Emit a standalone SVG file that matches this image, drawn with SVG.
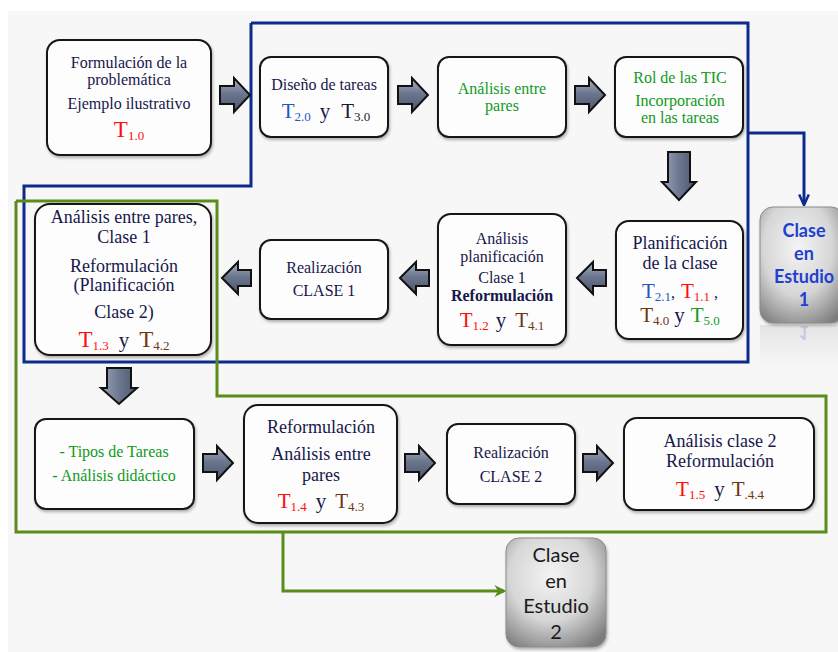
<svg xmlns="http://www.w3.org/2000/svg" width="838" height="652" viewBox="0 0 838 652">
<defs>
<style>
.box{fill:#fdfdfd;stroke:#151515;stroke-width:2;filter:url(#sh)}
.t{font-family:"Liberation Serif","DejaVu Serif",serif;font-size:16px;fill:#16174a;text-anchor:middle}
.g{fill:#0f9a1c}
.big{font-size:18px}
.tt{font-size:21px}
.sub{font-size:13px}
.red{fill:#ff0d0d}
.brn{fill:#6e3512}
.blu{fill:#2456c0}
.grn{fill:#139b25}
.blk{fill:#1a1a30}
.bl{fill:none;stroke:#0c2b8c;stroke-width:3}
.gl{fill:none;stroke:#5a8c1c;stroke-width:3}
.ar{stroke:#111;stroke-width:2;stroke-linejoin:miter}
.cs{font-family:Lato,"Open Sans","Liberation Sans",sans-serif;text-anchor:middle}
</style>
<filter id="sh" x="-10%" y="-10%" width="125%" height="125%"><feDropShadow dx="1" dy="2" stdDeviation="1.5" flood-color="#000" flood-opacity="0.3"/></filter>
<linearGradient id="ah" x1="0" y1="0" x2="0" y2="1"><stop offset="0" stop-color="#a9b1c4"/><stop offset="0.45" stop-color="#6c778f"/><stop offset="1" stop-color="#4b556c"/></linearGradient>
<linearGradient id="av" x1="0" y1="0" x2="1" y2="0"><stop offset="0" stop-color="#9aa3b8"/><stop offset="0.5" stop-color="#6d7890"/><stop offset="1" stop-color="#4b556c"/></linearGradient>
<radialGradient id="gb" cx="0.45" cy="0.35" r="0.75"><stop offset="0" stop-color="#f4f4f4"/><stop offset="0.55" stop-color="#d6d6d6"/><stop offset="1" stop-color="#7d7d7d"/></radialGradient>
<linearGradient id="rf" x1="0" y1="0" x2="0" y2="1"><stop offset="0" stop-color="#dcdcdc"/><stop offset="1" stop-color="#f7f7f7"/></linearGradient>
<path id="ra" class="ar" fill="url(#ah)" d="M0,-9 H14 V-17 L30,0 L14,17 V9 H0 Z"/>
<path id="la" class="ar" fill="url(#ah)" d="M0,0 L16,-16 V-8 H29 V8 H16 V16 Z"/>
<path id="da1" class="ar" fill="url(#av)" d="M-11,0 H11 V30 H17 L0,48 L-17,30 H-11 Z"/>
<path id="da2" class="ar" fill="url(#av)" d="M-12,0 H12 V20 H18 L0,36 L-18,20 H-12 Z"/>
<marker id="mb" viewBox="0 0 10 10" refX="8" refY="5" markerWidth="4" markerHeight="4" orient="auto"><path d="M0,1 L9,5 L0,9" fill="none" stroke="#0c2b8c" stroke-width="2"/></marker>
<marker id="mg" viewBox="0 0 10 10" refX="8" refY="5" markerWidth="4" markerHeight="4" orient="auto"><path d="M0,0 L10,5 L0,10 L3,5 Z" fill="#5a8c1c"/></marker>
</defs>
<rect x="8" y="11" width="830" height="641" fill="#f7f7f7"/>

<g id="connectors">
<polyline class="bl" points="251,23 748,23 748,362 24,362 24,186 251,186 251,23"/>
<polyline class="bl" points="748,133 804,133 804,204" marker-end="url(#mb)"/>
<polyline class="gl" points="16,201 217,201 217,396 826,396 826,532 16,532 16,201"/>
<polyline class="gl" points="283,532 283,591 504,591" marker-end="url(#mg)"/>
<use href="#ra" x="220" y="95"/>
<use href="#ra" x="398" y="95"/>
<use href="#ra" x="575" y="95"/>
<use href="#ra" x="203" y="463"/>
<use href="#ra" x="405" y="463"/>
<use href="#ra" x="583" y="463"/>
<use href="#la" x="577" y="278"/>
<use href="#la" x="400" y="278"/>
<use href="#la" x="222" y="278"/>
<use href="#da1" x="679" y="152"/>
<use href="#da2" x="119" y="368"/>
</g>

<g id="n1">
<rect class="box" x="47" y="40" width="164" height="115" rx="13"/>
<text class="t" x="129" y="68">Formulación de la</text>
<text class="t" x="129" y="85">problemática</text>
<text class="t" x="129" y="109">Ejemplo ilustrativo</text>
<text class="t red" x="129" y="137"><tspan font-size="23px">T</tspan><tspan class="sub" dy="3">1.0</tspan></text>
</g>

<g id="n2">
<rect class="box" x="260" y="57" width="128" height="80" rx="11"/>
<text class="t" x="324" y="90">Diseño de tareas</text>
<text class="t" x="326" y="118"><tspan class="tt blu">T</tspan><tspan class="sub blu" dy="3">2.0</tspan><tspan class="tt" dy="-3" dx="9">y</tspan><tspan class="tt blk" dx="11">T</tspan><tspan class="sub blk" dy="3">3.0</tspan></text>
</g>

<g id="n3">
<rect class="box" x="438" y="57" width="128" height="80" rx="11"/>
<text class="t g" x="502" y="94">Análisis entre</text>
<text class="t g" x="502" y="111">pares</text>
</g>

<g id="n4">
<rect class="box" x="615" y="57" width="128" height="80" rx="11"/>
<text class="t g" x="680" y="83">Rol de las TIC</text>
<text class="t g" x="680" y="106">Incorporación</text>
<text class="t g" x="680" y="123">en las tareas</text>
</g>

<g id="n5">
<rect class="box" x="616" y="221" width="127" height="118" rx="13"/>
<text class="t big" x="680" y="249">Planificación</text>
<text class="t big" x="680" y="269">de la clase</text>
<text class="t" x="680" y="298"><tspan class="tt blu">T</tspan><tspan class="sub blu" dy="3">2.1</tspan><tspan dy="-3">,</tspan><tspan class="tt red" dx="6">T</tspan><tspan class="sub red" dy="3">1.1</tspan><tspan dy="-3" dx="4">,</tspan></text>
<text class="t" x="680" y="322"><tspan class="tt brn">T</tspan><tspan class="sub brn" dy="3">4.0</tspan><tspan class="tt" dy="-3" dx="5">y</tspan><tspan class="tt grn" dx="6">T</tspan><tspan class="sub grn" dy="3">5.0</tspan></text>
</g>

<g id="n6">
<rect class="box" x="438" y="214" width="128" height="131" rx="13"/>
<text class="t" x="502" y="244">Análisis</text>
<text class="t" x="502" y="262">planificación</text>
<text class="t" x="502" y="283">Clase 1</text>
<text class="t" x="502" y="301" font-size="12.5px" font-weight="bold">Reformulación</text>
<text class="t" x="502" y="327"><tspan class="tt red">T</tspan><tspan class="sub red" dy="3">1.2</tspan><tspan class="tt" dy="-3" dx="7">y</tspan><tspan class="tt brn" dx="9">T</tspan><tspan class="sub brn" dy="3">4.1</tspan></text>
</g>

<g id="n7">
<rect class="box" x="260" y="240" width="128" height="79" rx="11"/>
<text class="t" x="324" y="273">Realización</text>
<text class="t" x="324" y="296">CLASE 1</text>
</g>

<g id="n8">
<rect class="box" x="35" y="204" width="176" height="151" rx="15"/>
<text class="t big" x="124" y="223">Análisis entre pares,</text>
<text class="t big" x="124" y="243">Clase 1</text>
<text class="t big" x="124" y="272">Reformulación</text>
<text class="t big" x="124" y="291">(Planificación</text>
<text class="t big" x="124" y="318">Clase 2)</text>
<text class="t" x="124" y="347"><tspan font-size="23px" class="red">T</tspan><tspan class="sub red" dy="3">1.3</tspan><tspan font-size="21px" dy="-3" dx="10">y</tspan><tspan font-size="23px" class="brn" dx="10">T</tspan><tspan class="sub brn" dy="3">4.2</tspan></text>
</g>

<g id="n9">
<rect class="box" x="35" y="419" width="159" height="90" rx="11"/>
<text class="t g" x="114" y="457">- Tipos  de Tareas</text>
<text class="t g" x="114" y="481">- Análisis didáctico</text>
</g>

<g id="n10">
<rect class="box" x="244" y="405" width="153" height="118" rx="14"/>
<text class="t big" x="321" y="433">Reformulación</text>
<text class="t big" x="321" y="460">Análisis entre</text>
<text class="t big" x="321" y="481">pares</text>
<text class="t" x="321" y="508"><tspan class="tt red">T</tspan><tspan class="sub red" dy="3">1.4</tspan><tspan class="tt" dy="-3" dx="9">y</tspan><tspan class="tt brn" dx="9">T</tspan><tspan class="sub brn" dy="3">4.3</tspan></text>
</g>

<g id="n11">
<rect class="box" x="447" y="424" width="128" height="80" rx="11"/>
<text class="t" x="511" y="458">Realización</text>
<text class="t" x="511" y="482">CLASE 2</text>
</g>

<g id="n12">
<rect class="box" x="624" y="418" width="190" height="92" rx="13"/>
<text class="t big" x="720" y="447">Análisis clase 2</text>
<text class="t big" x="720" y="467">Reformulación</text>
<text class="t" x="720" y="496"><tspan class="tt red">T</tspan><tspan class="sub red" dy="3">1.5</tspan><tspan class="tt" dy="-3" dx="9">y</tspan><tspan class="tt brn" dx="7">T</tspan><tspan class="sub brn" dy="3">.4.4</tspan></text>
</g>

<g id="clase1">
<rect x="760" y="325" width="80" height="42" fill="url(#rf)" opacity="0.7"/>
<text class="cs" x="804" y="-326" transform="scale(1,-1)" font-size="18px" font-weight="bold" fill="#1f3fd0" opacity="0.18">1</text>
<rect x="760" y="207" width="84" height="116" rx="13" fill="url(#gb)" stroke="#8a8a8a" stroke-width="1" filter="url(#sh)"/>
<text class="cs" x="804" y="237" font-size="18px" font-weight="bold" fill="#1f3fd0">Clase</text>
<text class="cs" x="804" y="260" font-size="18px" font-weight="bold" fill="#1f3fd0">en</text>
<text class="cs" x="804" y="283" font-size="18px" font-weight="bold" fill="#1f3fd0">Estudio</text>
<text class="cs" x="804" y="306" font-size="18px" font-weight="bold" fill="#1f3fd0">1</text>
</g>

<g id="clase2">
<rect x="506" y="538" width="100" height="109" rx="13" fill="url(#gb)" stroke="#8a8a8a" stroke-width="1" filter="url(#sh)"/>
<text class="cs" x="556" y="562" font-size="20px" fill="#1a1a1a">Clase</text>
<text class="cs" x="556" y="588" font-size="20px" fill="#1a1a1a">en</text>
<text class="cs" x="556" y="613" font-size="20px" fill="#1a1a1a">Estudio</text>
<text class="cs" x="556" y="639" font-size="20px" fill="#1a1a1a">2</text>
</g>
</svg>
